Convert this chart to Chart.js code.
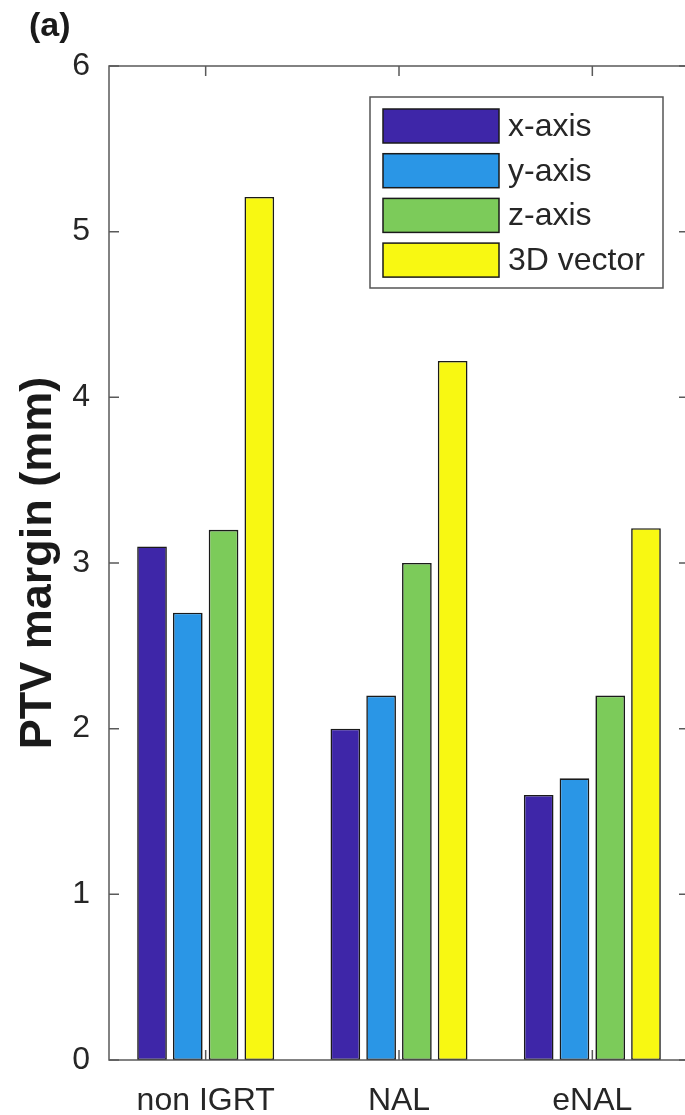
<!DOCTYPE html>
<html>
<head>
<meta charset="utf-8">
<script src="https://cdn.jsdelivr.net/npm/chart.js@4"></script>
<style>
  html, body { margin: 0; padding: 0; background: #fff; overflow: hidden; }
  canvas { display: block; }
</style>
</head>
<body>
<canvas id="bar-chart" width="700" height="1115"></canvas>
<script>
// data
const groups = ["non IGRT", "NAL", "eNAL"];
const seriesNames = ["x-axis", "y-axis", "z-axis", "3D vector"];
const xAxisVals = [3.1, 2.0, 1.6];
const yAxisVals = [2.7, 2.2, 1.7];
const zAxisVals = [3.2, 3.0, 2.2];
const vectorVals = [5.21, 4.22, 3.21];
const yTicks = [0, 1, 2, 3, 4, 5, 6];
const colors = ["#3e26a8", "#2a96e6", "#7ccb5a", "#f8f812"];

const axisColor = "#5a5a5a";
const textColor = "#262626";
const font = "'Liberation Sans', Arial, Helvetica, sans-serif";

// box around the axes, inward tick marks, legend, panel letter
const matlabAxes = {
  id: "matlabAxes",
  afterDraw(chart) {
    const ctx = chart.ctx;
    const a = chart.chartArea;
    const xs = chart.scales.x, ys = chart.scales.y;
    const tl = 10;
    ctx.save();
    ctx.strokeStyle = axisColor;
    ctx.lineWidth = 1.5;
    ctx.strokeRect(a.left, a.top, a.right - a.left, a.bottom - a.top);
    ctx.beginPath();
    groups.forEach((g, i) => {
      const px = xs.getPixelForValue(i);
      ctx.moveTo(px, a.bottom); ctx.lineTo(px, a.bottom - tl);
      ctx.moveTo(px, a.top); ctx.lineTo(px, a.top + tl);
    });
    yTicks.forEach(v => {
      const py = ys.getPixelForValue(v);
      ctx.moveTo(a.left, py); ctx.lineTo(a.left + tl, py);
      ctx.moveTo(a.right, py); ctx.lineTo(a.right - tl, py);
    });
    ctx.stroke();

    // legend
    const lx = 370, ly = 97, lw = 293, lh = 191;
    ctx.fillStyle = "#fff";
    ctx.fillRect(lx, ly, lw, lh);
    ctx.strokeStyle = "#555";
    ctx.lineWidth = 1.5;
    ctx.strokeRect(lx, ly, lw, lh);
    ctx.font = "32px " + font;
    ctx.textBaseline = "middle";
    ctx.textAlign = "left";
    chart.data.datasets.forEach((ds, i) => {
      const sy = 109 + i * 44.7;
      ctx.fillStyle = ds.backgroundColor;
      ctx.fillRect(383, sy, 116, 34);
      ctx.strokeStyle = "#1a1a1a";
      ctx.lineWidth = 1.5;
      ctx.strokeRect(383, sy, 116, 34);
      ctx.fillStyle = textColor;
      ctx.fillText(ds.label, 508, sy + 18);
    });

    // panel letter
    ctx.font = "bold 34px " + font;
    ctx.textBaseline = "alphabetic";
    ctx.fillStyle = "#1a1a1a";
    ctx.fillText("(a)", 29, 36);
    ctx.restore();
  }
};

const valueSets = [xAxisVals, yAxisVals, zAxisVals, vectorVals];

new Chart(document.getElementById("bar-chart"), {
  type: "bar",
  data: {
    labels: groups,
    datasets: seriesNames.map((name, i) => ({
      label: name,
      data: valueSets[i],
      backgroundColor: colors[i],
      borderColor: "#1a1a1a",
      borderWidth: 1.6,
      borderSkipped: false,
      categoryPercentage: 0.74,
      barPercentage: 0.83
    }))
  },
  options: {
    responsive: false,
    animation: false,
    events: [],
    layout: { padding: { top: 66, right: 11, left: 0, bottom: 0 } },
    plugins: {
      legend: { display: false },
      tooltip: { enabled: false }
    },
    scales: {
      x: {
        grid: { display: false, drawTicks: false },
        border: { display: false },
        ticks: {
          color: textColor,
          font: { family: font, size: 32 },
          padding: 22
        },
        afterFit(scale) { scale.height = 55; }
      },
      y: {
        min: 0,
        max: 6,
        grid: { display: false, drawTicks: false },
        border: { display: false },
        ticks: {
          stepSize: 1,
          color: textColor,
          font: { family: font, size: 32 },
          padding: 19
        },
        title: {
          display: true,
          text: "PTV margin (mm)",
          color: "#1a1a1a",
          font: { family: font, size: 45, weight: "bold" },
          padding: { top: 12, bottom: 0 }
        },
        afterFit(scale) { scale.width = 109; }
      }
    }
  },
  plugins: [matlabAxes]
});
</script>
</body>
</html>
